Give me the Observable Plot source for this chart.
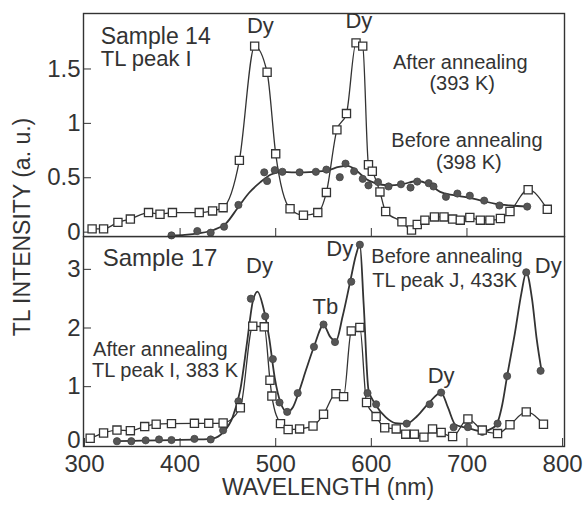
<!DOCTYPE html>
<html><head><meta charset="utf-8">
<script src="https://cdn.jsdelivr.net/npm/d3@7"></script>
<script src="https://cdn.jsdelivr.net/npm/@observablehq/plot@0.6"></script>
<style>
body{margin:0;background:#fff;font-family:"Liberation Sans",Arial,sans-serif;}
#wrap{position:relative;width:585px;height:508px;overflow:hidden;background:#fff;}
#top,#bot{position:absolute;left:0;}
#top{top:0;z-index:1}
#bot{top:236px;z-index:2}
.ylab{position:absolute;left:22px;top:227px;transform:translate(-50%,-50%) rotate(-90deg);font-size:23px;color:#333;white-space:nowrap;}
.xlab{position:absolute;left:328px;top:474px;transform:translateX(-50%);font-size:23px;color:#333;white-space:nowrap;}
</style></head>
<body>
<div id="wrap">
  <div id="top"></div>
  <div id="bot"></div>
  <div class="ylab">TL INTENSITY (a. u.)</div>
  <div class="xlab">WAVELENGTH (nm)</div>
</div>
<script>
// ---- Sample 14 (top panel) ----
const s14AfterWl = [308,320,335,348,367,379,392,420,434,445,462,478,491,500,515,529,544,553,564,574,584,591,597,601,609,615,632,642,648,656,666,676,685,693,703,714,724,735,745,764,784];
const s14AfterTl = [0.03,0.03,0.09,0.12,0.18,0.165,0.18,0.18,0.195,0.225,0.66,1.71,1.47,0.72,0.215,0.155,0.18,0.365,0.94,1.09,1.74,1.71,0.62,0.56,0.37,0.19,0.095,0.02,0.07,0.11,0.14,0.14,0.12,0.11,0.135,0.11,0.11,0.125,0.19,0.39,0.21];
const s14BeforeWl = [391,418,432,446,461,488,491,499,507,525,542,553,567,573,582,591,597,607,618,631,641,648,660,665,678,690,703,718,734,763];
const s14BeforeTl = [-0.03,0.01,-0.005,0.05,0.25,0.55,0.47,0.57,0.555,0.55,0.555,0.575,0.505,0.63,0.56,0.49,0.43,0.46,0.42,0.44,0.41,0.465,0.45,0.42,0.325,0.355,0.335,0.29,0.245,0.235];
const s14FitWl = [391,405,420,435,448,460,472,484,495,505,520,540,555,566,575,584,594,604,618,632,648,660,672,686,700,715,730,745,763];
const s14FitTl = [-0.03,-0.025,-0.01,0.02,0.08,0.22,0.36,0.46,0.53,0.555,0.55,0.555,0.57,0.6,0.61,0.57,0.49,0.45,0.43,0.44,0.47,0.44,0.37,0.34,0.32,0.29,0.26,0.245,0.235];
const s14Labels = ["Sample 14","TL peak I","Dy","Dy","After annealing","(393 K)","Before annealing","(398 K)"];
const s14LabelWl = [317,317,484,587,693,695,700,702];
const s14LabelTl = [1.80,1.59,1.90,1.94,1.56,1.37,0.84,0.64];
const s14LabelAnchor = ["start","start","middle","middle","middle","middle","middle","middle"];
const s14LabelSize = [23,22,22,22,20,20,20,20];

// ---- Sample 17 (bottom panel) ----
const s17AfterWl = [306,320,334,348,363,375,391,415,430,445,463,476,488,494,496,505,513,525,539,550,563,571,579,588,595,605,614,626,636,645,655,664,673,685,701,716,732,745,762,780];
const s17AfterTl = [0.12,0.21,0.26,0.25,0.32,0.36,0.37,0.375,0.375,0.38,0.64,2.03,2.02,1.11,0.84,0.37,0.27,0.28,0.33,0.53,0.88,0.83,1.95,2.01,0.73,0.49,0.3,0.28,0.19,0.19,0.14,0.28,0.22,0.15,0.45,0.26,0.2,0.35,0.57,0.36];
const s17BeforeWl = [334,349,364,378,391,415,432,445,461,474,489,497,504,512,523,540,550,562,579,588,596,605,637,661,673,686,701,716,732,742,762,777];
const s17BeforeTl = [0.07,0.07,0.085,0.1,0.09,0.11,0.1,0.255,0.75,2.5,2.2,1.47,0.73,0.57,0.89,1.68,2.06,1.76,2.79,3.42,0.89,0.7,0.37,0.7,0.9,0.31,0.31,0.23,0.37,1.18,2.95,1.27];
const s17FitWl = [334,360,390,420,435,445,455,463,470,476,481,487,493,499,505,512,518,524,532,540,550,557,563,570,578,584,588,592,597,605,615,625,637,648,660,673,680,688,700,716,730,737,742,750,757,762,768,773,778];
const s17FitTl = [0.07,0.08,0.09,0.1,0.12,0.22,0.48,0.95,1.75,2.45,2.62,2.35,1.85,1.15,0.73,0.57,0.65,0.9,1.3,1.68,2.05,1.85,1.78,2.2,2.8,3.25,3.42,2.4,0.95,0.68,0.48,0.38,0.37,0.5,0.72,0.9,0.65,0.35,0.3,0.24,0.33,0.7,1.18,1.9,2.6,2.95,2.5,1.8,1.27];
const s17Labels = ["Sample 17","Dy","After annealing","TL peak I, 383 K","Tb","Dy","Before annealing","TL peak J, 433K","Dy","Dy"];
const s17LabelWl = [319,483,309,308,552,567,600,601,785,673];
const s17LabelTl = [3.19,3.05,1.64,1.28,2.36,3.35,3.225,2.80,3.065,1.18];
const s17LabelAnchor = ["start","middle","start","start","middle","middle","start","start","middle","middle"];
const s17LabelSize = [24,22,20,20,22,22,20,20,22,22];

// ---- axes ----
const xDomain = [299, 802];
const xTicks = [300,400,500,600,700,800];
const topYTicks = [0,0.5,1,1.5];
const botYTicks = [1,2,3];
const botYZero = [0];

const ink = "#333";
const pts = (xs, ys) => xs.map((x, i) => ({x, y: ys[i]}));
const labs = (t, xs, ys, a, s) => t.map((text, i) => ({text, x: xs[i], y: ys[i], anchor: a[i], size: s[i]}));

function labelMarks(rows) {
  return rows.map(r => Plot.text([r], {x: "x", y: "y", text: "text", textAnchor: r.anchor, fontSize: r.size, fill: ink}));
}

const topPlot = Plot.plot({
  width: 585, height: 250,
  marginLeft: 83, marginRight: 21, marginTop: 13, marginBottom: 14,
  style: {fontFamily: '"Liberation Sans", Arial, sans-serif', color: ink, background: "transparent"},
  x: {domain: xDomain},
  y: {domain: [-0.04, 2.01]},
  marks: [
    Plot.axisY({ticks: topYTicks, tickFormat: d => String(d), tickSize: -8, tickPadding: 11, fontSize: 24, label: null, stroke: ink}),
    Plot.axisX({ticks: [400,500,600,700], tickFormat: () => "", tickSize: -8, label: null, stroke: ink}),
    Plot.line(pts(s14AfterWl, s14AfterTl), {x: "x", y: "y", curve: "monotone-x", stroke: ink, strokeWidth: 1.3}),
    Plot.line(pts(s14FitWl, s14FitTl), {x: "x", y: "y", curve: "monotone-x", stroke: ink, strokeWidth: 1.8}),
    Plot.dot(pts(s14BeforeWl, s14BeforeTl), {x: "x", y: "y", r: 3.6, fill: "#555", stroke: "#444", strokeWidth: 0.8}),
    Plot.dot(pts(s14AfterWl, s14AfterTl), {x: "x", y: "y", symbol: "square", r: 4.6, fill: "white", stroke: ink, strokeWidth: 1.3}),
    ...labelMarks(labs(s14Labels, s14LabelWl, s14LabelTl, s14LabelAnchor, s14LabelSize)),
    Plot.frame({stroke: ink, strokeWidth: 1.4})
  ]
});

const botPlot = Plot.plot({
  width: 585, height: 272,
  marginLeft: 83, marginRight: 21, marginTop: 0, marginBottom: 62,
  style: {fontFamily: '"Liberation Sans", Arial, sans-serif', color: ink, background: "transparent"},
  x: {domain: xDomain},
  y: {domain: [-0.02, 3.56]},
  marks: [
    Plot.axisY({ticks: botYTicks, tickFormat: d => String(d), tickSize: -8, tickPadding: 11, fontSize: 24, label: null, stroke: ink}),
    Plot.axisY({ticks: botYZero, tickFormat: d => String(d), tickSize: 0, tickPadding: 3, dy: -5, fontSize: 24, label: null}),
    Plot.axisX({ticks: xTicks, tickFormat: d => String(d), tickSize: -8, tickPadding: 16, fontSize: 24, label: null, stroke: ink}),
    Plot.line(pts(s17AfterWl, s17AfterTl), {x: "x", y: "y", curve: "monotone-x", stroke: ink, strokeWidth: 1.3}),
    Plot.line(pts(s17FitWl, s17FitTl), {x: "x", y: "y", curve: "monotone-x", stroke: ink, strokeWidth: 1.8}),
    Plot.dot(pts(s17BeforeWl, s17BeforeTl), {x: "x", y: "y", r: 3.6, fill: "#555", stroke: "#444", strokeWidth: 0.8}),
    Plot.dot(pts(s17AfterWl, s17AfterTl), {x: "x", y: "y", symbol: "square", r: 4.6, fill: "white", stroke: ink, strokeWidth: 1.3}),
    ...labelMarks(labs(s17Labels, s17LabelWl, s17LabelTl, s17LabelAnchor, s17LabelSize)),
    Plot.frame({stroke: ink, strokeWidth: 1.4})
  ]
});

document.getElementById("top").appendChild(topPlot);
document.getElementById("bot").appendChild(botPlot);
</script>
</body></html>
